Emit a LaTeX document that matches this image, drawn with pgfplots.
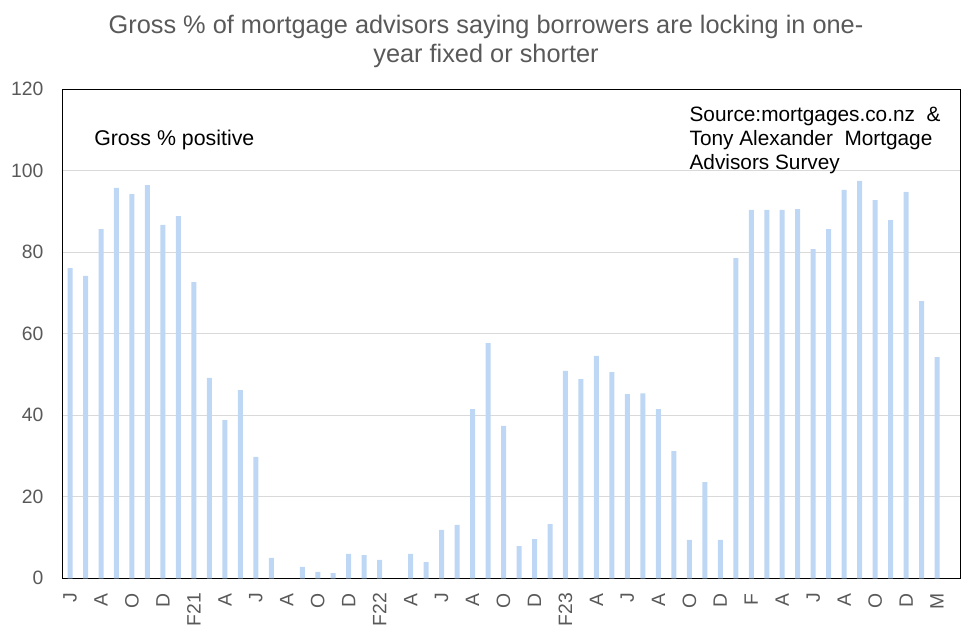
\documentclass[border=0pt]{standalone}
\usepackage{pgfplots}
\pgfplotsset{compat=1.18}
\usepackage{fontspec}
\setmainfont{Liberation Sans}
\definecolor{barblue}{RGB}{189,215,245}
\definecolor{gridgray}{RGB}{217,217,217}
\definecolor{txtgray}{RGB}{89,89,89}
\begin{document}
\begin{tikzpicture}
\path (0,0) rectangle (732pt,477.75pt);
\begin{axis}[
  at={(46.725pt,44.025pt)}, anchor=south west,
  scale only axis, width=673.5pt, height=366.75pt,
  xmin=-0.5, xmax=57.5, ymin=0, ymax=120,
  enlargelimits=false,
  ytick={0,20,...,120},
  xtick={0,2,...,56},
  xticklabels={J,A,O,D,F21,A,J,A,O,D,F22,A,J,A,O,D,F23,A,J,A,O,D,F,A,J,A,O,D,M},
  major tick length=0pt,
  ymajorgrids, grid style={gridgray, line width=0.75pt},
  axis line style={black, line width=0.75pt},
  tick label style={font=\fontsize{14.5}{16}\selectfont, text=txtgray, inner sep=0pt},
  /pgf/number format/assume math mode=true,
  x tick label style={rotate=90, anchor=east},
  xticklabel shift=11pt,
  yticklabel shift=14pt,
]
\addplot[ybar, bar width=3.75pt, draw=none, fill=barblue] coordinates {
(0,76.1) (1,74.2) (2,85.7) (3,95.8) (4,94.3) (5,96.5) (6,86.7) (7,88.9)
(8,72.7) (9,49.2) (10,38.8) (11,46.2) (12,29.8) (13,5.0) (15,2.8) (16,1.6)
(17,1.3) (18,6.0) (19,5.7) (20,4.5) (22,6.0) (23,4.0) (24,11.9) (25,13.1)
(26,41.5) (27,57.7) (28,37.4) (29,7.9) (30,9.6) (31,13.3) (32,50.9) (33,48.9)
(34,54.6) (35,50.6) (36,45.2) (37,45.4) (38,41.5) (39,31.2) (40,9.4) (41,23.6)
(42,9.4) (43,78.6) (44,90.4) (45,90.4) (46,90.4) (47,90.6) (48,80.8) (49,85.7)
(50,95.3) (51,97.5) (52,92.8) (53,87.9) (54,94.8) (55,68.0) (56,54.3)
};
\end{axis}
\node[align=center, text=txtgray, font=\fontsize{19}{21.75}\selectfont, inner sep=0pt] at (364.5pt,446.5pt)
  {Gross \% of mortgage advisors saying borrowers are locking in one-\\year fixed or shorter};
\node[anchor=base west, inner sep=0pt, font=\fontsize{16}{18}\selectfont] at (70.5pt,368.5pt) {Gross \% positive};
\begin{scope}[every node/.style={anchor=base west, inner sep=0pt, font=\fontsize{15.6}{18}\selectfont}]
\node at (517pt,386.5pt) {Source:mortgages.co.nz \ \&};
\node at (517pt,368.5pt) {Tony Alexander \ Mortgage};
\node at (517pt,350.5pt) {Advisors Survey};
\end{scope}
\end{tikzpicture}
\end{document}
